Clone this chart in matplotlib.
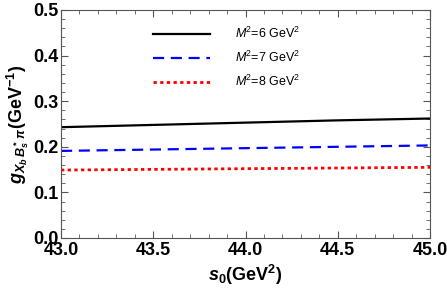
import matplotlib.pyplot as plt
import matplotlib
from matplotlib.ticker import MultipleLocator, FormatStrFormatter

matplotlib.rcParams['font.family'] = ['Liberation Sans', 'DejaVu Sans']
matplotlib.rcParams['mathtext.fontset'] = 'custom'
matplotlib.rcParams['mathtext.rm'] = 'Liberation Sans:bold'
matplotlib.rcParams['mathtext.it'] = 'Liberation Sans:bold:italic'
matplotlib.rcParams['mathtext.bf'] = 'Liberation Sans:bold'
matplotlib.rcParams['mathtext.sf'] = 'Liberation Sans'  # regular, for the legend
matplotlib.rcParams['mathtext.cal'] = 'Liberation Sans:italic'

s0 = [43.0, 43.5, 44.0, 44.5, 45.0]
g_m6 = [0.243, 0.248, 0.253, 0.258, 0.262]
g_m7 = [0.191, 0.194, 0.197, 0.200, 0.203]
g_m8 = [0.149, 0.1505, 0.152, 0.1535, 0.155]
labels = ['6', '7', '8']

fig = plt.figure(figsize=(4.47, 2.91), dpi=100)
ax = fig.add_axes([61/447, 1-238/291, (430-61)/447, (238-10)/291])

l1, = ax.plot(s0, g_m6, color='black', linewidth=1.6)
l2, = ax.plot(s0, g_m7, color='blue', linewidth=1.6, linestyle=(0, (5, 3)))
l3, = ax.plot(s0, g_m8, color='red', linewidth=2, linestyle=(0, (1.2, 1.2)))

ax.set_xlim(43.0, 45.0)
ax.set_ylim(0.0, 0.5)
ax.xaxis.set_major_locator(MultipleLocator(0.5))
ax.xaxis.set_minor_locator(MultipleLocator(0.1))
ax.yaxis.set_major_locator(MultipleLocator(0.1))
ax.yaxis.set_minor_locator(MultipleLocator(0.02))
ax.xaxis.set_major_formatter(FormatStrFormatter('%.1f'))
ax.yaxis.set_major_formatter(FormatStrFormatter('%.1f'))
ax.tick_params(which='both', direction='in', top=True, right=True, color='#555555')
ax.tick_params(which='major', length=5, labelsize=13)
ax.tick_params(axis='y', which='major', pad=2)
ax.tick_params(axis='x', which='major', pad=3)
ax.tick_params(which='minor', length=3)
for lab in ax.get_xticklabels() + ax.get_yticklabels():
    lab.set_fontweight('bold')
for sp in ax.spines.values():
    sp.set_color('#555555')

ax.set_xlabel(r'$s_0$(GeV$^2$)', fontsize=13, fontweight='bold', labelpad=3)
ax.set_ylabel(r'$g_{X_b\,B_s^*\,\pi}$(GeV$^{-1}$)', fontsize=13, fontweight='bold', labelpad=1)

ax.legend([l1, l2, l3],
          [r'$\mathcal{M}^{\mathsf{2}}$=%s GeV$^{\mathsf{2}}$' % m for m in labels],
          loc='upper left', bbox_to_anchor=(0.22, 0.98), frameon=False,
          handlelength=4.5, handletextpad=2, labelspacing=0.7,
          prop={'size': 9})

fig.savefig('out.png', dpi=100)
